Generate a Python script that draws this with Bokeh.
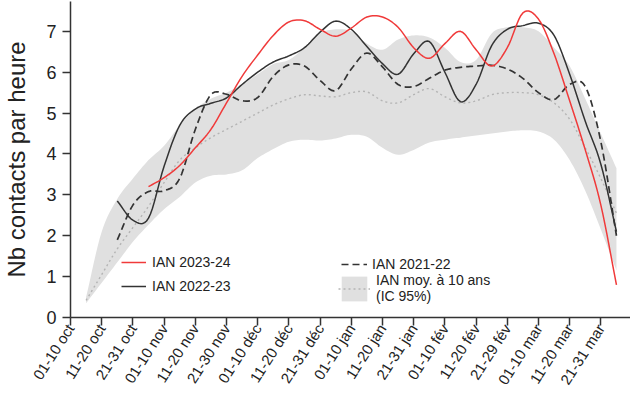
import numpy as np
from bokeh.plotting import figure
from bokeh.models import Range1d, FixedTicker, Legend, LegendItem
from bokeh.embed import file_html
from bokeh.resources import INLINE

# Decade tick labels (tick i marks the start of decade i)
tick_labels = ["01-10 oct", "11-20 oct", "21-31 oct", "01-10 nov", "11-20 nov", "21-30 nov",
               "01-10 déc", "11-20 déc", "21-31 déc", "01-10 jan", "11-20 jan", "21-31 jan",
               "01-10 fév", "11-20 fév", "21-29 fév", "01-10 mar", "11-20 mar", "21-31 mar"]

# sample positions (in decades from 1 Oct), every half decade from 0.5 to 17.5
x_all = [0.5 + 0.5 * i for i in range(35)]

# 10-year mean and 95% CI band
mean_10y = [0.42, 1.05, 1.68, 2.2, 2.72, 3.3, 3.85, 4.15, 4.4, 4.6, 4.8, 5.0, 5.2, 5.35, 5.45,
            5.42, 5.4, 5.5, 5.52, 5.3, 5.25, 5.45, 5.6, 5.4, 5.25, 5.3, 5.45, 5.5, 5.5, 5.45,
            5.25, 4.85, 4.15, 3.4, 2.55]
ci_low = [0.35, 0.85, 1.35, 1.85, 2.27, 2.65, 2.95, 3.3, 3.47, 3.5, 3.6, 3.9, 4.12, 4.3, 4.35,
          4.33, 4.38, 4.47, 4.42, 4.15, 3.98, 4.1, 4.28, 4.35, 4.4, 4.45, 4.5, 4.55, 4.58, 4.55,
          4.35, 3.85, 3.1, 2.15, 1.15]
ci_high = [0.5, 2.1, 2.9, 3.4, 3.85, 4.2, 4.7, 5.1, 5.35, 5.5, 5.7, 5.95, 6.2, 6.3, 6.6,
           6.95, 7.05, 7.0, 6.7, 6.55, 6.8, 6.9, 6.85, 6.6, 6.25, 6.3, 6.95, 7.1, 7.1, 7.0,
           6.6, 6.15, 5.35, 4.5, 3.65]

# IAN 2023-24 (from 2.5)
x_2324 = x_all[4:]
ian_2324 = [3.2, 3.42, 3.72, 4.15, 4.6, 5.25, 5.9, 6.42, 6.9, 7.23, 7.26, 7.05, 6.88, 7.08,
            7.35, 7.35, 7.1, 6.6, 6.34, 6.7, 7.0, 6.55, 6.15, 6.6, 7.45, 7.3, 6.45, 5.3, 4.1,
            2.75, 0.8]
# IAN 2022-23 (from 1.5)
x_2223 = x_all[2:]
ian_2223 = [2.85, 2.38, 2.43, 3.7, 4.7, 5.1, 5.24, 5.37, 5.7, 6.0, 6.25, 6.4, 6.6, 6.98, 7.25,
            7.05, 6.63, 6.21, 5.95, 6.45, 6.75, 6.0, 5.28, 5.7, 6.65, 7.05, 7.14, 7.2, 6.9, 5.95,
            4.8, 3.75, 2.1]
# IAN 2021-22 (from 1.5)
x_2122 = x_all[2:]
ian_2122 = [1.9, 2.75, 3.08, 3.1, 3.4, 4.6, 5.45, 5.46, 5.3, 5.38, 5.9, 6.18, 6.15, 5.8, 5.55,
            6.08, 6.47, 6.13, 5.7, 5.65, 5.85, 6.05, 6.12, 6.15, 6.17, 6.08, 5.85, 5.5, 5.33, 5.7,
            5.65, 4.3, 2.0]


def smooth_path(xs, ys, steps=8):
    """Smooth (cubic Hermite / Catmull-Rom) drawing path through the given points."""
    xs = np.asarray(xs, float)
    ys = np.asarray(ys, float)
    n = len(xs)
    m = np.empty(n)
    m[1:-1] = (ys[2:] - ys[:-2]) / 2.0
    m[0] = ys[1] - ys[0]
    m[-1] = ys[-1] - ys[-2]
    px, py = [], []
    t = np.linspace(0, 1, steps, endpoint=False)
    h00 = 2 * t**3 - 3 * t**2 + 1
    h10 = t**3 - 2 * t**2 + t
    h01 = -2 * t**3 + 3 * t**2
    h11 = t**3 - t**2
    for i in range(n - 1):
        px.extend(xs[i] + t * (xs[i + 1] - xs[i]))
        py.extend(h00 * ys[i] + h10 * m[i] + h01 * ys[i + 1] + h11 * m[i + 1])
    px.append(xs[-1])
    py.append(ys[-1])
    return px, py


FONT = "Liberation Sans"
TXT = "#222222"
DARK = "#333333"

p = figure(width=630, height=397, output_backend="svg", toolbar_location=None,
           x_range=Range1d(0, 17.95), y_range=Range1d(0, 7.73),
           min_border_left=69, min_border_right=0, min_border_top=1, min_border_bottom=80)
p.outline_line_color = None
p.xgrid.visible = False
p.ygrid.visible = False

bx, blo = smooth_path(x_all, ci_low)
_, bhi = smooth_path(x_all, ci_high)
band = p.varea(x=bx, y1=blo, y2=bhi, fill_color="#e0e0e0", fill_alpha=1.0)
mx, my = smooth_path(x_all, mean_10y)
mean_r = p.line(mx, my, line_color="#b4b4b4", line_width=1.4, line_dash="2 3")
dx, dy = smooth_path(x_2122, ian_2122)
r2122 = p.line(dx, dy, line_color=DARK, line_width=1.7, line_dash="7 4", line_join="round")
sx, sy = smooth_path(x_2223, ian_2223)
r2223 = p.line(sx, sy, line_color=DARK, line_width=1.5, line_join="round")
rx, ry = smooth_path(x_2324, ian_2324)
r2324 = p.line(rx, ry, line_color="#f03a3a", line_width=1.5, line_join="round")

# axes
p.xaxis.ticker = FixedTicker(ticks=list(range(len(tick_labels))))
p.xaxis.major_label_overrides = {i: lab for i, lab in enumerate(tick_labels)}
p.xaxis.major_label_orientation = 1.0
p.yaxis.ticker = FixedTicker(ticks=list(range(0, 8)))
p.yaxis.axis_label = "Nb contacts par heure"
for ax in (p.xaxis[0], p.yaxis[0]):
    ax.axis_line_color = DARK
    ax.axis_line_width = 1.5
    ax.major_tick_line_color = DARK
    ax.major_tick_line_width = 1.5
    ax.major_tick_out = 8
    ax.major_tick_in = 0
    ax.minor_tick_line_color = None
    ax.major_label_text_font = FONT
    ax.major_label_text_color = TXT
p.xaxis.major_label_text_font_size = "15px"
p.yaxis.major_label_text_font_size = "18px"
p.xaxis.major_label_standoff = 0
p.yaxis.major_label_standoff = 6
p.yaxis.axis_label_text_font = FONT
p.yaxis.axis_label_text_font_size = "24px"
p.yaxis.axis_label_text_font_style = "normal"
p.yaxis.axis_label_text_color = TXT
p.yaxis.axis_label_standoff = 13

legA = Legend(items=[LegendItem(label="IAN 2023-24", renderers=[r2324]),
                     LegendItem(label="IAN 2022-23", renderers=[r2223])],
              location=(51, 21))
legB1 = Legend(items=[LegendItem(label="IAN 2021-22", renderers=[r2122])],
               location=(271, 43))
legB2 = Legend(items=[LegendItem(label="IAN moy. à 10 ans\n(IC 95%)", renderers=[band, mean_r])],
               location=(268, 13))
for lg, gw, gh, so in ((legA, 25, 20, 6), (legB1, 26, 20, 5), (legB2, 32, 31, 6)):
    lg.background_fill_alpha = 0
    lg.border_line_color = None
    lg.padding = 0
    lg.margin = 0
    lg.spacing = 4
    lg.glyph_width = gw
    lg.glyph_height = gh
    lg.label_height = gh
    lg.label_standoff = so
    lg.label_text_font = FONT
    lg.label_text_font_size = "14px"
    lg.label_text_color = TXT
    p.add_layout(lg)

open("out.html", "w").write(file_html(p, INLINE))
